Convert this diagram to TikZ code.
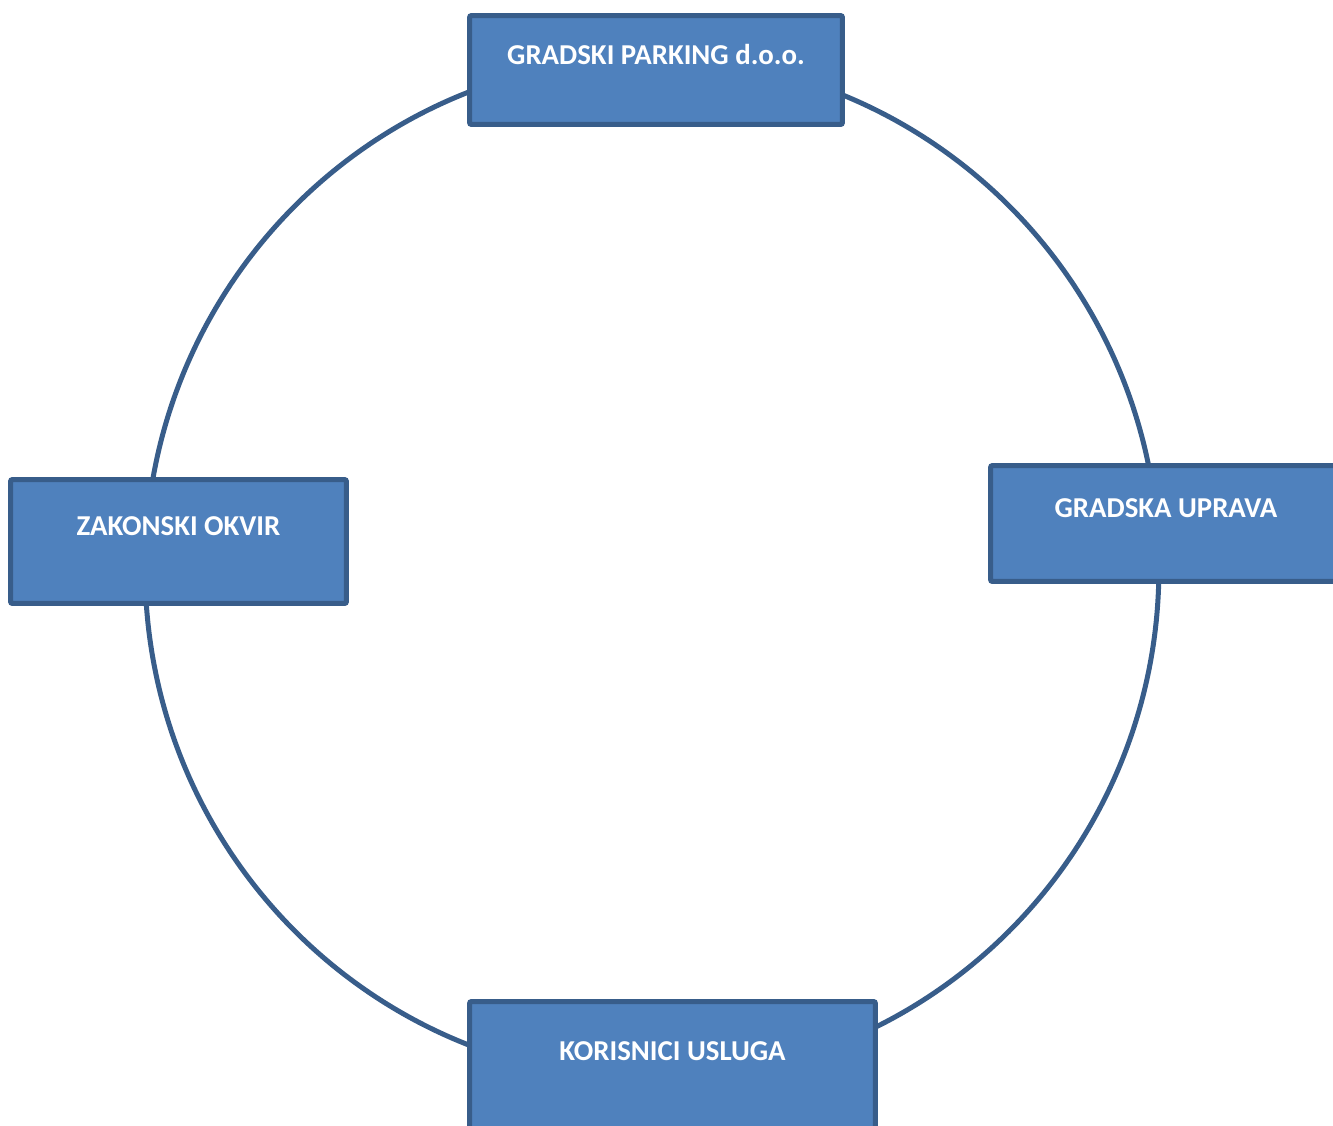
\documentclass[tikz,border=0pt]{standalone}
\usepackage{fontspec}
\setmainfont{Carlito}
\definecolor{cFill}{HTML}{4F81BD}
\definecolor{cBorder}{HTML}{385D8A}
\tikzset{
  rolebox/.style={
    draw=cBorder, fill=cFill, rounded corners=0.04cm,
    line width=0.1cm, inner xsep=0pt, inner ysep=0pt,
    text height=0.45*#1, text depth=0.55*#1,
    font=\fontsize{16.4}{20}\selectfont\bfseries, text=white,
  },
  ring/.style={draw=cBorder, line width=0.1cm},
}
\begin{document}
\begin{tikzpicture}[x=0.02cm, y=-0.02cm]
  \clip (0,0) rectangle (1333,1126);

  % Ring behind the boxes
  \coordinate (mid) at (652,568.5);
  \draw[ring] (mid) ellipse [x radius=10.14cm, y radius=10.22cm];

  % Boxes
  \node[rolebox=2.18cm, minimum width=7.46cm] (parking) at (656,70) {GRADSKI PARKING d.o.o.};
  \node[rolebox=2.32cm, minimum width=7.02cm] (uprava) at (1166,523.5) {GRADSKA UPRAVA};
  \node[rolebox=2.48cm, minimum width=6.72cm] (okvir) at (178.5,541.5) {ZAKONSKI OKVIR};
  \node[rolebox=2.6cm, minimum width=8.12cm] (korisnici) at (672.5,1066.5) {KORISNICI USLUGA};
\end{tikzpicture}
\end{document}
